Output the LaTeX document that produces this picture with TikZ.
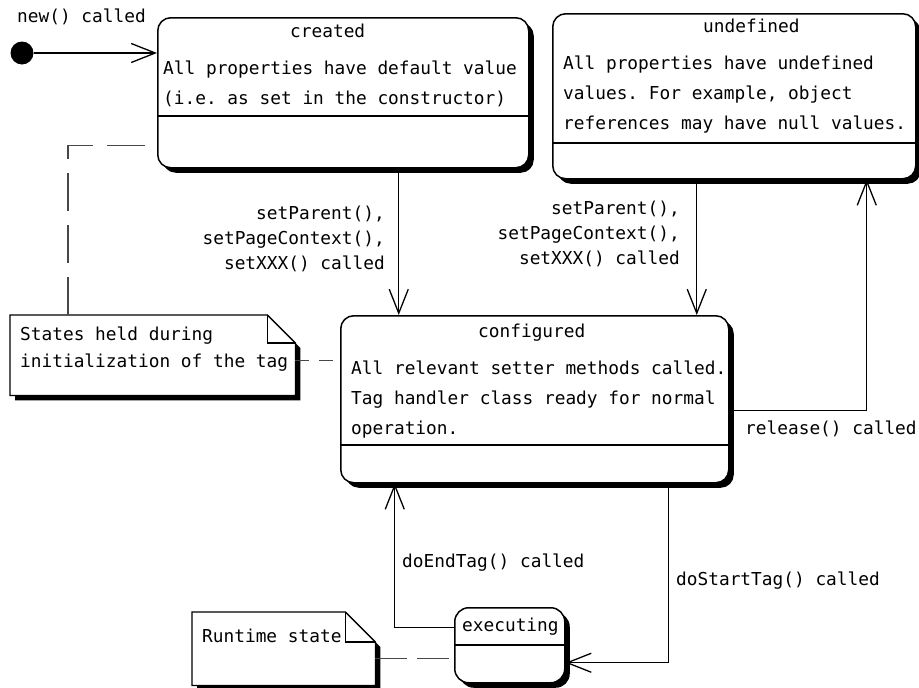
\documentclass[tikz,border=0pt]{standalone}
\usepackage{fontspec}
\setmonofont{DejaVu Sans Mono}
\usetikzlibrary{arrows.meta,shadows}
\begin{document}
\begin{tikzpicture}[x=1pt,y=-1pt,
  lbl/.style={font=\ttfamily\fontsize{17.8}{25}\selectfont, inner sep=0pt},
  ln/.style={lbl, text height=13pt, text depth=4pt, anchor=west},
  boxshadow/.style={drop shadow={shadow xshift=5pt, shadow yshift=-5pt, fill=black, opacity=1}},
  statebox/.style={draw, line width=1.5pt, rounded corners=13pt, fill=white,
    anchor=north west, inner sep=0pt, boxshadow},
  sepline/.style={line width=1.5pt},
  trans/.style={line width=1.3pt, -{Straight Barb[length=24pt, width=19pt, line width=1.3pt]}},
  notelink/.style={line width=1.3pt, draw=black!72, dash pattern=on 38pt off 14pt},
  noteframe/.style={draw, line width=1.3pt, fill=white, line join=miter, boxshadow},
  noteanchor/.style={anchor=north west, inner sep=0pt}
]
\useasboundingbox (0,0) rectangle (919,688);

% initial pseudo-state
\node[circle, fill=black, minimum size=23pt, inner sep=0pt] (start) at (22,53) {};
\node[ln] (newlbl) at (17,18) {new() called};

% state boxes
\node[statebox, minimum width=371pt, minimum height=150pt] (created) at (157,17) {};
\node[statebox, minimum width=363pt, minimum height=165pt] (undefined) at (552,13) {};
\node[statebox, minimum width=388pt, minimum height=167pt] (configured) at (340,315) {};
\node[statebox, minimum width=110pt, minimum height=75pt, rounded corners=14pt] (executing) at (454,607) {};

% compartment separators
\draw[sepline] (created.west |- 0,116) -- (created.east |- 0,116);
\draw[sepline] (undefined.west |- 0,143) -- (undefined.east |- 0,143);
\draw[sepline] (configured.west |- 0,445) -- (configured.east |- 0,445);
\draw[sepline] (executing.west |- 0,645) -- (executing.east |- 0,645);

% state texts
\node[ln] (createdT) at (290,33) {created};
\node[ln] (createdA) at (163,70) {All properties have default value};
\node[ln] (createdB) at (163,100) {(i.e. as set in the constructor)};

\node[ln] (undefT) at (703,28) {undefined};
\node[ln] (undefA) at (563,65) {All properties have undefined};
\node[ln] (undefB) at (563,95) {values. For example, object};
\node[ln] (undefC) at (563,125) {references may have null values.};

\node[ln] (confT) at (478,333) {configured};
\node[ln] (confA) at (351,370) {All relevant setter methods called.};
\node[ln] (confB) at (351,400) {Tag handler class ready for normal};
\node[ln] (confC) at (351,430) {operation.};

\node[ln] (execT) at (462,627) {executing};

% notes
\node[noteanchor, minimum width=285pt, minimum height=80pt] (note1) at (10,315) {};
\draw[noteframe] (note1.north west) -- ([xshift=-28pt]note1.north east)
  -- ([yshift=-28pt]note1.north east) -- (note1.south east) -- (note1.south west) -- cycle;
\draw[line width=1.3pt] ([xshift=-28pt]note1.north east) |- ([yshift=-28pt]note1.north east);
\node[ln] (note1A) at (20,336) {States held during};
\node[ln] (note1B) at (20,363) {initialization of the tag};

\node[noteanchor, minimum width=183pt, minimum height=73pt] (note2) at (192,612) {};
\draw[noteframe] (note2.north west) -- ([xshift=-30pt]note2.north east)
  -- ([yshift=-30pt]note2.north east) -- (note2.south east) -- (note2.south west) -- cycle;
\draw[line width=1.3pt] ([xshift=-30pt]note2.north east) |- ([yshift=-30pt]note2.north east);
\node[ln] (note2A) at (202,638) {Runtime state};

% note attachments
\draw[notelink] ([xshift=58pt]note1.north west) |- ([yshift=-53pt]created.west);
\draw[notelink, dash pattern=on 14pt off 10pt] ([yshift=-5pt]note1.east) -- ([yshift=-5pt]note1.east -| configured.west);
\draw[notelink, dash pattern=on 32pt off 10pt] ([yshift=-9.5pt]note2.east) -- ([yshift=-9.5pt]note2.east -| executing.west);

% transitions
\draw[trans] (start) -- (start -| created.west);
\draw[trans] ([xshift=55.5pt]created.south) -- ([xshift=55.5pt]created.south |- configured.north);
\draw[trans] ([xshift=-37.5pt]undefined.south) -- ([xshift=-37.5pt]undefined.south |- configured.north);
\draw[trans] ([yshift=-11.5pt]configured.east) -| ([xshift=132.5pt]undefined.south);
\draw[trans] ([xshift=134pt]configured.south) |- ([yshift=-17.5pt]executing.east);
\draw[trans] ([yshift=17.5pt]executing.west) -| ([xshift=-140pt]configured.south);

% transition labels
\node[lbl, align=right, anchor=east] (setA) at (385,239) {setParent(),\\setPageContext(),\\setXXX() called};
\node[lbl, align=right, anchor=east] (setB) at (680,234) {setParent(),\\setPageContext(),\\setXXX() called};
\node[ln] (relLbl) at (745,430) {release() called};
\node[ln] (endLbl) at (402,563) {doEndTag() called};
\node[ln] (startLbl) at (676,581) {doStartTag() called};
\end{tikzpicture}
\end{document}
